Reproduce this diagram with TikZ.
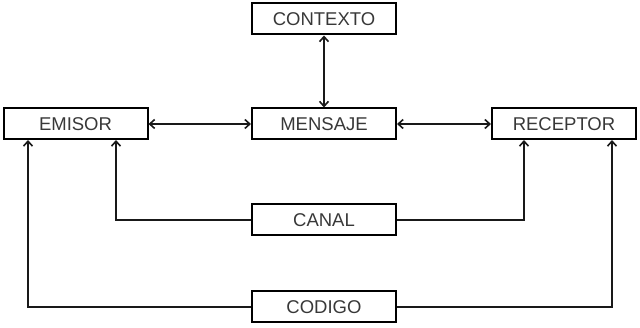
\documentclass[tikz,border=0pt]{standalone}
\usepackage{fontspec}
\setmainfont{Liberation Sans}
\usetikzlibrary{arrows.meta}
\begin{document}
\begin{tikzpicture}[x=1pt,y=-1pt,
  box/.style={draw=black,line width=2pt,minimum width=144pt,minimum height=31pt,inner sep=0pt,
    font=\fontsize{18.5}{21}\selectfont,text=black!78},
  conn/.style={line width=2pt,black!90},
  tip/.style={-{Straight Barb[length=5pt,width=9pt,line width=1.6pt]}},
  both/.style={{Straight Barb[length=5pt,width=9pt,line width=1.6pt]}-{Straight Barb[length=5pt,width=9pt,line width=1.6pt]}}]
\useasboundingbox (0,0) rectangle (640,328);
\node[box] (ctx) at (324,19) {CONTEXTO};
\node[box] (emi) at (75.5,124) {EMISOR};
\node[box] (men) at (324,124) {MENSAJE};
\node[box] (rec) at (564,124) {RECEPTOR};
\node[box] (can) at (324,220) {CANAL};
\node[box] (cod) at (324,307) {CODIGO};
\draw[conn,both] (ctx.south) -- (men.north);
\draw[conn,both] (emi.east) -- (men.west);
\draw[conn,both] (men.east) -- (rec.west);
\coordinate (e1) at (116,140);
\coordinate (e2) at (28,140);
\coordinate (r1) at (524,140);
\coordinate (r2) at (612,140);
\draw[conn,tip] (can.west) -| (e1);
\draw[conn,tip] (can.east) -| (r1);
\draw[conn,tip] (cod.west) -| (e2);
\draw[conn,tip] (cod.east) -| (r2);
\end{tikzpicture}
\end{document}
